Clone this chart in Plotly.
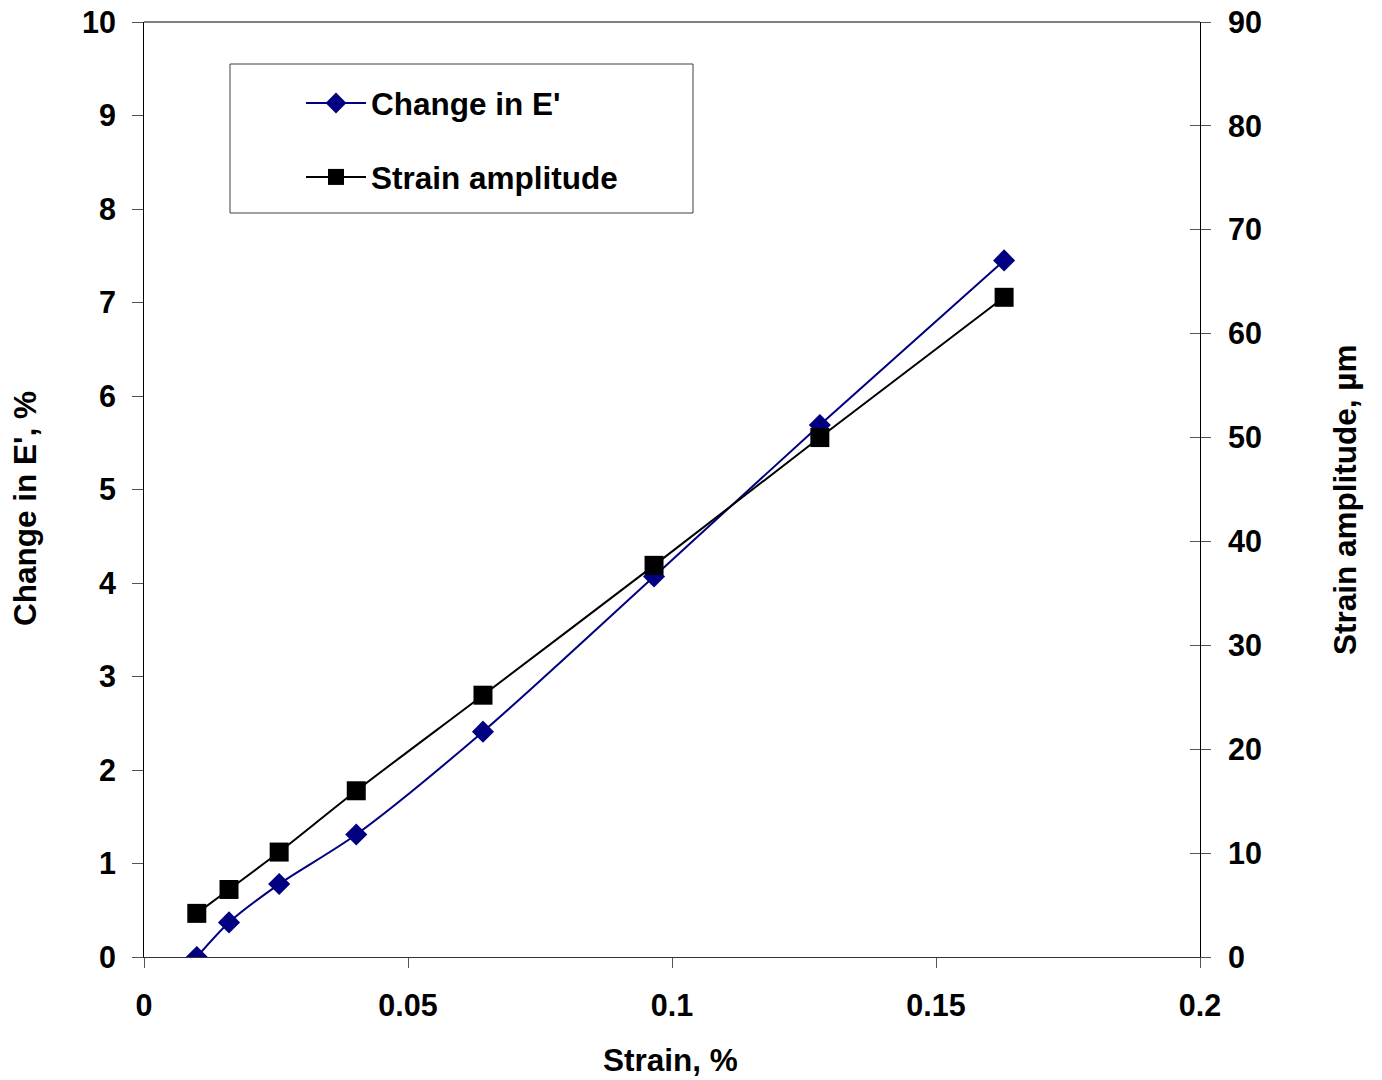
import plotly.graph_objects as go

strain = [0.0100, 0.0161, 0.0256, 0.0402, 0.0642, 0.0966, 0.1280, 0.1629]
change_E = [0.00, 0.37, 0.78, 1.31, 2.41, 4.07, 5.69, 7.45]
strain_amp = [4.2, 6.5, 10.1, 16.0, 25.2, 37.7, 50.0, 63.5]

x_ticks = [0, 0.05, 0.1, 0.15, 0.2]
y_ticks = list(range(0, 11))
y2_ticks = list(range(0, 91, 10))

FONT = "Liberation Sans, Arial, sans-serif"
fs = 30.5
fs_t = 31.5

# page body has an 8px margin; plot area in reference: x 144..1200, y 22..957
fig = go.Figure()
fig.add_trace(go.Scatter(
    x=strain, y=change_E, name="<b>Change in E'</b>", mode="lines+markers",
    line=dict(color="#000080", width=2, shape="spline", smoothing=0.8),
    marker=dict(symbol="diamond", size=17, color="#000080"),
    legendgroup="a",
))
fig.add_trace(go.Scatter(
    x=strain, y=strain_amp, name="<b>Strain amplitude</b>", mode="lines+markers",
    line=dict(color="#000000", width=2, shape="spline", smoothing=0.8),
    marker=dict(symbol="square", size=19, color="#000000"),
    yaxis="y2", legendgroup="b",
))
fig.add_trace(go.Scatter(x=[None], y=[None], yaxis="y3", showlegend=False, hoverinfo="skip"))

fig.update_layout(
    width=1374, height=1072,
    margin=dict(l=136, r=182, t=14, b=123, autoexpand=False),
    paper_bgcolor="white", plot_bgcolor="white",
    font=dict(family=FONT, size=fs, color="black"),
    showlegend=True,
    legend=dict(
        x=(301 - 144) / 1056, y=(957 - 76) / 935, xanchor="left", yanchor="top",
        bgcolor="rgba(0,0,0,0)", borderwidth=0,
        font=dict(family=FONT, size=fs_t, color="black"),
        tracegroupgap=30, traceorder="grouped", itemwidth=60,
    ),
    xaxis=dict(
        range=[0, 0.2], tickvals=x_ticks, ticktext=["<b>%s</b>" % str(v) for v in x_ticks],
        showgrid=False, zeroline=False, showline=True, linecolor="#333333", linewidth=1,
        ticks="outside", ticklen=10, tickcolor="#555555", tickwidth=1,
        ticklabelstandoff=11, automargin=False, ticklabeloverflow="allow",
    ),
    yaxis=dict(
        range=[0, 10], tickvals=y_ticks, ticktext=["<b>%d</b>" % v for v in y_ticks],
        showgrid=False, zeroline=False, showline=True, linecolor="black", linewidth=1,
        ticks="outside", ticklen=11, tickcolor="#555555", tickwidth=1,
        ticklabelstandoff=10, automargin=False, ticklabeloverflow="allow",
    ),
    yaxis2=dict(
        range=[0, 90], tickvals=y2_ticks, ticktext=["<b>%d</b>" % v for v in y2_ticks],
        overlaying="y", side="right", anchor="x",
        showgrid=False, zeroline=False, showline=True, linecolor="black", linewidth=1,
        ticks="outside", ticklen=10, tickcolor="#555555", tickwidth=1,
        ticklabelstandoff=11, automargin=False, ticklabeloverflow="allow",
    ),
    yaxis3=dict(
        range=[0, 90], tickvals=y2_ticks, overlaying="y", side="right", anchor="x",
        showgrid=False, zeroline=False, showline=False, showticklabels=False,
        ticks="inside", ticklen=10, tickcolor="#555555", tickwidth=1, automargin=False,
    ),
    shapes=[
        dict(type="line", xref="paper", yref="paper", x0=0, x1=1, y0=1, y1=1,
             line=dict(color="#808080", width=2)),
        dict(type="rect", xref="paper", yref="paper",
             x0=(230 - 144) / 1056, x1=(693 - 144) / 1056,
             y0=(957 - 213) / 935, y1=(957 - 64) / 935,
             line=dict(color="#404040", width=1), fillcolor="rgba(0,0,0,0)", layer="below"),
    ],
    annotations=[
        dict(text="<b>Strain, %</b>", xref="paper", yref="paper",
             x=(670 - 144) / 1056, y=(957 - 1060) / 935, showarrow=False,
             xanchor="center", yanchor="middle", font=dict(size=fs_t)),
        dict(text="<b>Change in E', %</b>", xref="paper", yref="paper",
             x=(25 - 144) / 1056, y=(957 - 509) / 935, showarrow=False, textangle=-90,
             xanchor="center", yanchor="middle", font=dict(size=fs_t)),
        dict(text="<b>Strain amplitude, µm</b>", xref="paper", yref="paper",
             x=(1345 - 144) / 1056, y=(957 - 500) / 935, showarrow=False, textangle=-90,
             xanchor="center", yanchor="middle", font=dict(size=fs_t)),
    ],
)

fig.write_html("out.html")
